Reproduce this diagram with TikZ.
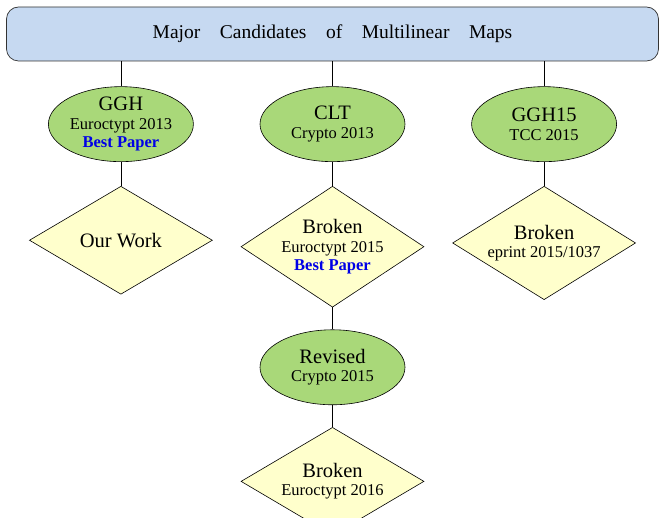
\documentclass[tikz,border=0pt]{standalone}
\usepackage{fontspec}
\setmainfont{Liberation Serif}
\usetikzlibrary{positioning, shapes.geometric}

\definecolor{titleblue}{RGB}{198,217,241}
\definecolor{candgreen}{RGB}{169,216,121}
\definecolor{attackyellow}{RGB}{255,255,204}
\definecolor{paperblue}{RGB}{0,0,230}

\newcommand{\bigline}{\fontsize{20.5}{18.5}\selectfont}
\newcommand{\smallline}{\fontsize{16.5}{18.5}\selectfont}
\newcommand{\bestpaper}{{\bfseries\color{paperblue}Best Paper}}

\begin{document}
\begin{tikzpicture}[x=1pt, y=1pt,
    title/.style={rectangle, rounded corners=12pt, draw=black!80, fill=titleblue, line width=0.7pt, minimum width=652pt, minimum height=54pt, font=\fontsize{19.5}{21}\selectfont},
    cand/.style={ellipse, draw, fill=candgreen, line width=0.6pt, minimum width=145pt, minimum height=75pt, inner sep=-3pt, align=center, font=\smallline},
    attack/.style={diamond, draw, fill=attackyellow, line width=0.6pt, minimum width=183pt, minimum height=108pt, inner sep=-9pt, align=center, font=\smallline},
]
    \useasboundingbox (0,0) rectangle (659,-518);

    % Nodes
    \node[title] (maps) at (332.5,-34) {Major\quad Candidates\quad of\quad Multilinear\quad Maps};

    \node[cand] (clt)   [below=25pt of maps]  {{\bigline CLT}\\Crypto 2013};
    \node[cand] (ggh)   [left=66pt of clt]    {{\bigline GGH}\\Euroctypt 2013\\\bestpaper};
    \node[cand] (gghf)  [right=66pt of clt]   {{\bigline GGH15}\\TCC 2015};

    \node[attack] (ours)   [below=24pt of ggh]  {{\bigline Our Work}};
    \node[attack] (brkclt) [below=24pt of clt]  {{\bigline Broken}\\Euroctypt 2015\\\bestpaper};
    \node[attack] (brkggh) [below=24pt of gghf] {{\bigline Broken}\\eprint 2015/1037};

    \node[cand] (rev)      [below=22pt of brkclt] {{\bigline Revised}\\Crypto 2015};
    \node[attack] (brkrev) [below=22pt of rev]    {{\bigline Broken}\\Euroctypt 2016};

    % Lines
    \draw[line width=0.6pt] (ggh) -- (ggh |- maps.south);
    \draw[line width=0.6pt] (clt) -- (clt |- maps.south);
    \draw[line width=0.6pt] (gghf) -- (gghf |- maps.south);

    \draw[line width=0.6pt] (ggh) -- (ours);
    \draw[line width=0.6pt] (clt) -- (brkclt);
    \draw[line width=0.6pt] (gghf) -- (brkggh);

    \draw[line width=0.6pt] (brkclt) -- (rev);
    \draw[line width=0.6pt] (rev) -- (brkrev);
\end{tikzpicture}
\end{document}
